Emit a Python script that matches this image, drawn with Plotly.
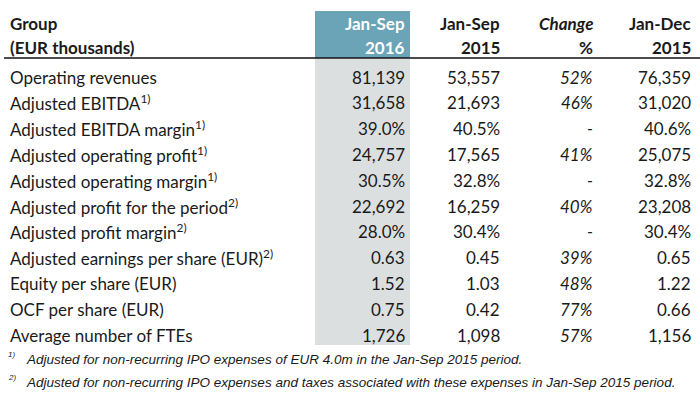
import plotly.graph_objects as go

row_labels = [
    "Operating revenues",
    "Adjusted EBITDA<sup>1)</sup>",
    "Adjusted EBITDA margin<sup>1)</sup>",
    "Adjusted operating profit<sup>1)</sup>",
    "Adjusted operating margin<sup>1)</sup>",
    "Adjusted profit for the period<sup>2)</sup>",
    "Adjusted profit margin<sup>2)</sup>",
    "Adjusted earnings per share (EUR)<sup>2)</sup>",
    "Equity per share (EUR)",
    "OCF per share (EUR)",
    "Average number of FTEs",
]
jan_sep_2016 = ["81,139", "31,658", "39.0%", "24,757", "30.5%", "22,692", "28.0%", "0.63", "1.52", "0.75", "1,726"]
jan_sep_2015 = ["53,557", "21,693", "40.5%", "17,565", "32.8%", "16,259", "30.4%", "0.45", "1.03", "0.42", "1,098"]
change_pct = ["52%", "46%", "-", "41%", "-", "40%", "-", "39%", "48%", "77%", "57%"]
jan_dec_2015 = ["76,359", "31,020", "40.6%", "25,075", "32.8%", "23,208", "30.4%", "0.65", "1.22", "0.66", "1,156"]
col_headers = [("Jan-Sep", "2016"), ("Jan-Sep", "2015"), ("<i>Change</i>", "%"), ("Jan-Dec", "2015")]
header_left = ["Group", "(EUR thousands)"]
footnotes = [
    ("1)", "Adjusted for non-recurring IPO expenses of EUR 4.0m in the Jan-Sep 2015 period."),
    ("2)", "Adjusted for non-recurring IPO expenses and taxes associated with these expenses in Jan-Sep 2015 period."),
]

W, H = 700, 404
FONT = "Lato, 'Open Sans', sans-serif"
TXT = "#1a1a1a"
col_right = [407, 502, 595, 693]
row_y0, row_dy = 77, 25.8
fs = 17

fig = go.Figure()
ann = []
shapes = []

# header box and gray column
shapes.append(dict(type="rect", xref="x", yref="y", x0=315, x1=410, y0=11, y1=58,
                   fillcolor="#6ba3b7", line=dict(width=0), layer="below"))
shapes.append(dict(type="rect", xref="x", yref="y", x0=315, x1=410, y0=59, y1=345,
                   fillcolor="#dcdfe0", line=dict(width=0), layer="below"))
shapes.append(dict(type="line", xref="x", yref="y", x0=4, x1=700, y0=58, y1=58,
                   line=dict(color="#111111", width=1.5)))

# left header
for i, t in enumerate(header_left):
    ann.append(dict(x=8, y=23 + i * 24, text="<b>" + t + "</b>", xanchor="left", yanchor="middle",
                    font=dict(family=FONT, size=fs, color=TXT)))
# column headers
for j, (a, b) in enumerate(col_headers):
    c = "white" if j == 0 else TXT
    for i, t in enumerate((a, b)):
        ann.append(dict(x=col_right[j], y=23 + i * 24, text="<b>" + t + "</b>", xanchor="right",
                        yanchor="middle", font=dict(family=FONT, size=fs, color=c)))

# rows
cols = [jan_sep_2016, jan_sep_2015, change_pct, jan_dec_2015]
for r, lab in enumerate(row_labels):
    y = row_y0 + r * row_dy
    ann.append(dict(x=8, y=y, text=lab, xanchor="left", yanchor="middle",
                    font=dict(family=FONT, size=fs, color=TXT)))
    for j, col in enumerate(cols):
        v = col[r]
        if j == 2:
            v = "<i>" + v + "</i>"
        ann.append(dict(x=col_right[j], y=y, text=v, xanchor="right", yanchor="middle",
                        font=dict(family=FONT, size=fs, color=TXT)))

# footnotes
FN = "'Liberation Sans', Arial, sans-serif"
for k, (m, t) in enumerate(footnotes):
    y = 359 + k * 23.5
    ann.append(dict(x=6, y=y - 5, text="<i>" + m + "</i>", xanchor="left", yanchor="middle",
                    font=dict(family=FN, size=8, color=TXT)))
    ann.append(dict(x=24, y=y, text="<i>" + t + "</i>", xanchor="left", yanchor="middle",
                    font=dict(family=FN, size=13.5, color=TXT)))

for a in ann:
    a.update(xref="x", yref="y", showarrow=False)

fig.update_layout(
    width=W, height=H, margin=dict(l=0, r=0, t=0, b=0),
    paper_bgcolor="white", plot_bgcolor="white",
    xaxis=dict(range=[0, W], visible=False, fixedrange=True),
    yaxis=dict(range=[H, 0], visible=False, fixedrange=True),
    annotations=ann, shapes=shapes, showlegend=False,
)
fig.write_html("out.html", config={"displayModeBar": False},
               post_script="document.body.style.margin='0';document.body.style.overflow='hidden';")
